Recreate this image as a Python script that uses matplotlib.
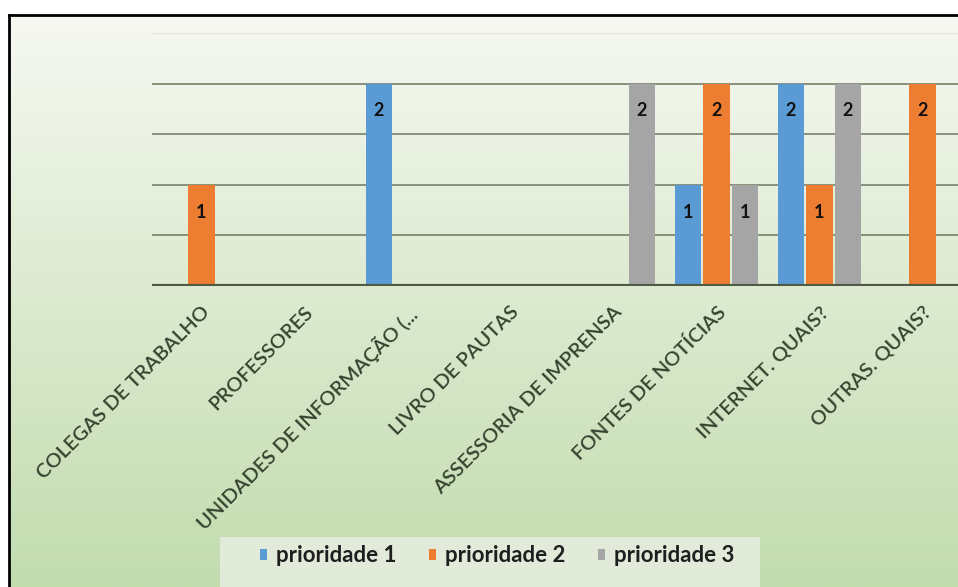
import numpy as np
import matplotlib
matplotlib.use("Agg")
import matplotlib.pyplot as plt
from matplotlib.patches import Patch, Rectangle
from matplotlib.lines import Line2D

categorias = ["COLEGAS DE TRABALHO", "PROFESSORES", "UNIDADES DE INFORMAÇÃO (...",
              "LIVRO DE PAUTAS", "ASSESSORIA DE IMPRENSA", "FONTES DE NOTÍCIAS",
              "INTERNET. QUAIS?", "OUTRAS. QUAIS?"]
series = ["prioridade 1", "prioridade 2", "prioridade 3"]
prioridade1 = [0, 0, 2, 0, 0, 1, 2, 0]
prioridade2 = [1, 0, 0, 0, 0, 2, 1, 2]
prioridade3 = [0, 0, 0, 0, 2, 1, 2, 0]
cores = ["#5B9BD5", "#ED7D31", "#A5A5A5"]

plt.rcParams['font.family'] = ['Lato', 'DejaVu Sans']

W, H = 958, 587
fig = plt.figure(figsize=(W / 100, H / 100), dpi=100)
fig.patch.set_facecolor("white")

# fundo em degrade
bg = fig.add_axes([9 / W, 0, 1 - 9 / W, (H - 16) / H], zorder=-5)
top = np.array([246, 248, 242]) / 255
bot = np.array([194, 220, 174]) / 255
t = np.linspace(0, 1, 256)[:, None]
grad = top * (1 - t) + bot * t
bg.imshow(grad[:, None, :].repeat(2, axis=1), aspect="auto", extent=[0, 1, 0, 1])
bg.axis("off")

# moldura preta (esquerda e topo)
fig.add_artist(Line2D([8.5 / W, 8.5 / W], [0, (H - 15) / H], color="black", lw=2))
fig.add_artist(Line2D([8.5 / W, 1], [(H - 15) / H, (H - 15) / H], color="black", lw=2))

ax = fig.add_axes([152 / W, (H - 286) / H, 1 - 152 / W, (286 - 33) / H])
ax.set_facecolor("none")

x = np.arange(len(categorias))
w = 0.26
dados = [prioridade1, prioridade2, prioridade3]
for i, (vals, cor, nome) in enumerate(zip(dados, cores, series)):
    pos = x + (i - 1) * 0.277
    barras = ax.bar(pos, vals, width=w, color=cor, label=nome, zorder=3)
    for b, v in zip(barras, vals):
        if v > 0:
            ax.text(b.get_x() + b.get_width() / 2, v - 0.27, str(v),
                    ha="center", va="center", fontsize=13, fontweight="bold",
                    color="#111111", zorder=4)

ax.set_xlim(-0.48, 7.345)
ax.set_ylim(0, 2.5)
ax.set_yticks([0.5, 1, 1.5, 2])
ax.yaxis.grid(True, color="#7f8a74", lw=1.3, zorder=0)
ax.axhline(2.5, color="#e4e8de", lw=1.5, zorder=0)
ax.axhline(0, color="#4f5a45", lw=3, zorder=5)
ax.tick_params(left=False, labelleft=False, bottom=False)
for s in ax.spines.values():
    s.set_visible(False)

ax.set_xticks(x)
ax.set_xticklabels(categorias, rotation=45, ha="right", va="top",
                   rotation_mode="anchor", fontsize=14.5, fontweight="semibold",
                   color="#34432e")
ax.tick_params(axis="x", pad=9)

# legenda com fundo claro
fig.add_artist(Rectangle((220 / W, 0), 540 / W, 50 / H, transform=fig.transFigure,
                         facecolor="#e6ecdf", edgecolor="none", alpha=0.9, zorder=1))
handles = [Patch(facecolor=c, edgecolor="none") for c in cores]
leg = fig.legend(handles, series, loc="center", bbox_to_anchor=(497 / W, 31 / H),
                 ncol=3, frameon=False, handlelength=0.33,
                 handleheight=0.33, handletextpad=0.4, columnspacing=1.45,
                 prop={"weight": "bold", "size": 16})
for txt in leg.get_texts():
    txt.set_color("#1e1e1e")

fig.savefig("out.png", dpi=100)
